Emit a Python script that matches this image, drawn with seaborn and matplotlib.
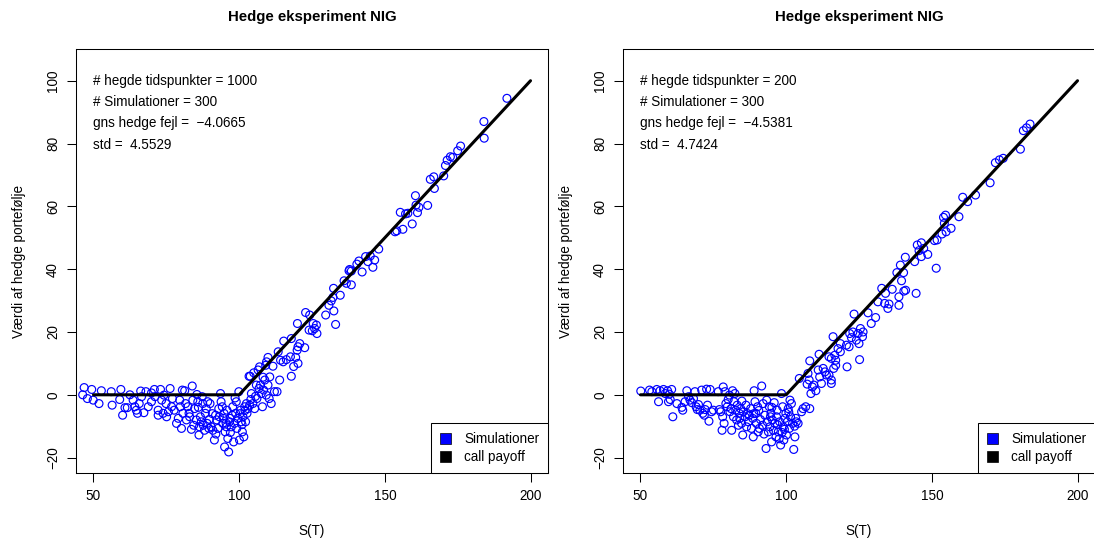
import matplotlib
matplotlib.use("Agg")
import matplotlib.pyplot as plt
from matplotlib.patches import Patch
import seaborn as sns
import pandas as pd

sns.set_style("ticks")
plt.rcParams['font.family'] = ['Liberation Sans', 'DejaVu Sans']
plt.rcParams['text.color'] = 'black'
plt.rcParams['axes.labelcolor'] = 'black'
plt.rcParams['xtick.color'] = 'black'
plt.rcParams['ytick.color'] = 'black'

# ---------------- data ----------------
title = "Hedge eksperiment NIG"
xlabel = "S(T)"
ylabel = "Værdi af hedge portefølje"
legend_labels = ["Simulationer", "call payoff"]

left_texts = ["# hegde tidspunkter = 1000", "# Simulationer = 300",
              "gns hedge fejl =  \u22124.0665", "std =  4.5529"]
right_texts = ["# hegde tidspunkter = 200", "# Simulationer = 300",
               "gns hedge fejl =  \u22124.5381", "std =  4.7424"]

payoff_S = [50, 100, 200]
payoff_V = [0, 0, 100]

x_ticks = [50, 100, 150, 200]
y_ticks = [-20, 0, 20, 40, 60, 80, 100]

left_S = [46.8, 46.3, 47.9, 49.4, 49.9, 51.9, 52.7, 56.1, 56.4, 59.0, 59.4, 60.0, 60.8, 61.6, 62.5,
          63.6, 64.2, 64.7, 65.1, 65.7, 66.2, 66.5, 67.3, 68.0, 68.8, 69.9, 69.9, 70.9, 71.1, 72.2,
          72.2, 73.0, 73.4, 73.9, 74.2, 74.9, 75.1, 75.7, 76.3, 76.8, 77.1, 77.7, 78.5, 79.1, 79.6,
          79.8, 80.2, 80.5, 80.7, 81.3, 81.6, 81.9, 82.4, 82.8, 83.6, 83.9, 84.1, 84.4, 84.7, 85.3,
          85.5, 85.8, 86.2, 86.4, 86.7, 87.0, 87.3, 87.5, 87.7, 88.1, 88.4, 88.7, 89.0, 89.2, 89.6,
          90.0, 90.4, 91.0, 91.5, 91.9, 92.3, 92.7, 93.0, 93.2, 93.6, 93.8, 94.2, 94.4, 94.8, 95.0,
          95.2, 95.6, 95.8, 96.1, 96.4, 96.7, 96.9, 97.3, 97.6, 97.8, 98.1, 98.4, 98.8, 99.0, 99.2,
          99.5, 99.9, 100.1, 100.5, 100.7, 101.1, 101.3, 101.6, 101.9, 102.2, 102.5, 102.7, 103.0, 103.4, 103.6,
          103.8, 104.2, 104.7, 105.0, 105.3, 105.9, 106.1, 106.5, 107.0, 107.3, 107.6, 108.0, 108.2, 108.4, 108.8,
          109.1, 109.3, 109.9, 110.3, 110.5, 111.0, 111.6, 112.1, 113.0, 113.9, 117.9, 118.7, 120.2,
          130.8, 131.6, 132.5, 129.7, 124.2, 122.8, 120.0, 125.4, 126.5, 125.9, 124.0, 125.1, 126.7, 133.1,
          117.9, 115.3, 120.8, 120.2, 122.5, 119.9, 117.6, 116.2, 114.2, 115.1, 119.4, 109.9, 109.4, 113.4,
          191.9, 184.0, 184.1, 176.0, 175.0, 173.3, 172.5, 171.4, 170.8, 170.2, 166.8, 165.6, 167.0, 160.5,
          160.7, 161.7, 164.7, 161.2, 157.9, 157.1, 155.3, 159.4, 156.2, 154.1, 153.5, 147.9, 146.5, 145.9,
          145.0, 144.2, 143.4, 141.1, 140.4, 137.9, 137.7, 138.5, 142.2, 136.0, 136.8, 138.5, 132.4, 134.7,
          132.2,
          86.0, 90.8, 92.0, 94.6, 97.0, 98.6, 100.3, 101.0, 102.0, 104.0, 105.6, 106.8, 89.8, 83.0, 95.5]
left_V = [2.3, 0.0, -1.2, 1.7, -1.7, -2.8, 1.3, 1.0, -3.3, -1.5, 1.7, -6.5, -4.1, -4.1, 0.0,
          -1.7, -3.8, -4.9, -5.9, -2.8, 1.2, -0.6, -5.7, 1.0, -3.8, 0.6, -2.2, 1.7, -0.6, -4.9,
          -6.5, 1.7, -1.7, -5.9, -0.1, -2.8, -7.0, -5.4, 2.0, -3.8, -1.2, -4.9, -9.1, -7.5, -1.7,
          -3.8, -10.7, 1.5, -5.9, 1.3, -2.8, -8.0, -3.8, -5.9, -11.0, 2.8, -1.7, -9.7, -4.4, -8.0,
          0.1, -2.2, -12.8, -10.2, -7.0, -8.6, -0.6, -2.8, -9.7, -11.3, -5.9, -4.4, -9.1, -2.2, -10.7,
          -2.8, -10.2, -11.3, -14.4, -6.5, -8.0, -10.7, -4.4, -7.0, 0.4, -2.2, -3.8, -9.1, -5.9, -16.6,
          -11.8, -10.2, -4.9, -13.9, -18.2, -8.6, -7.5, -10.2, -6.5, -3.8, -15.0, -9.1, -5.9, -2.2, -10.7,
          -7.5, 1.0, -14.4, -4.9, -8.6, -11.8, -7.0, -13.4, -3.8, -8.6, -2.8, -5.9, -4.4, 5.9, -3.3,
          5.9, 0.4, -2.8, 7.0, -4.4, 3.1, -1.2, 7.9, 8.9, 3.1, 0.4, -3.8, 5.6, 1.5, 4.7,
          9.4, -0.1, 3.1, -1.2, 5.7, -2.8, 9.1, 1.0, 1.0, 4.7, 5.9, 9.0, 10.0,
          28.5, 29.9, 26.7, 25.4, 25.4, 26.2, 22.7, 22.7, 22.2, 21.1, 20.6, 20.4, 19.5, 22.4,
          17.9, 17.1, 16.3, 15.3, 15.0, 14.2, 12.1, 11.2, 11.0, 10.5, 11.9, 11.9, 10.5, 13.7,
          94.4, 87.0, 81.7, 79.2, 77.7, 75.6, 75.8, 74.7, 73.0, 69.7, 69.4, 68.6, 65.7, 63.4,
          60.4, 59.7, 60.3, 58.0, 57.8, 57.6, 58.1, 54.4, 52.7, 52.2, 51.9, 46.4, 42.9, 40.6,
          44.2, 42.4, 44.0, 42.6, 41.6, 39.9, 39.5, 39.4, 39.1, 36.3, 35.5, 35.0, 33.9, 31.7,
          31.0,
          -4.0, -6.0, -12.5, -7.5, -12.0, -1.0, -6.0, -9.5, -5.0, -1.5, -0.5, 2.0, -7.8, -7.0, -9.0]

right_S = [50.1, 53.1, 53.9, 55.6, 56.7, 57.9, 58.5, 59.3, 59.9, 60.7, 61.1, 56.2, 59.6, 60.2, 62.5,
           64.2, 64.5, 65.3, 65.9, 66.5, 67.0, 67.6, 68.2, 68.7, 69.1, 69.5, 69.9, 70.4, 71.0, 71.4,
           71.9, 72.2, 72.7, 73.0, 73.5, 73.9, 74.4, 75.0, 76.7, 77.1, 77.5, 78.0, 78.2, 78.4, 78.7,
           79.0, 79.3, 79.8, 80.1, 80.5, 80.7, 81.1, 81.3, 81.6, 81.9, 82.1, 82.4, 82.7, 83.0, 83.2,
           83.6, 83.9, 84.1, 84.4, 84.7, 85.1, 85.3, 85.9, 86.2, 86.4, 87.0, 87.3, 87.8, 88.1, 88.5,
           88.7, 89.0, 89.3, 89.6, 89.8, 90.2, 90.4, 90.8, 91.2, 91.6, 91.9, 92.1, 92.7, 93.1, 93.3,
           93.5, 93.9, 94.2, 94.4, 94.8, 95.0, 95.3, 95.6, 95.9, 96.1, 96.5, 96.7, 96.9, 97.3, 97.6,
           97.8, 98.1, 98.4, 98.8, 99.0, 99.2, 99.6, 99.9, 100.1, 100.4, 100.7, 101.1, 101.3, 101.5, 101.8,
           102.2, 102.6, 103.0, 103.3, 103.5, 104.1, 104.5, 105.3, 105.8, 106.7, 107.2, 107.5, 107.9, 108.1, 108.5,
           109.0, 109.5, 110.2, 111.0, 111.5, 112.1, 112.7, 113.3, 113.8, 114.7, 115.5, 115.5, 116.3, 117.0, 120.9,
           131.5, 133.8, 135.3, 134.9, 138.7, 128.1, 130.7, 129.2, 123.3, 125.5, 126.4, 124.7, 126.2, 122.9,
           121.8, 122.4, 124.1, 125.0, 116.1, 118.6, 120.7, 121.6, 117.8, 118.6, 116.7, 115.5, 114.7, 117.0,
           125.2, 111.3, 108.1,
           183.7, 182.5, 181.4, 180.4, 174.5, 173.2, 171.8, 170.0, 165.0, 162.3, 160.6, 159.3, 154.7, 154.0,
           154.3, 156.6, 154.9, 153.5, 151.8, 150.9, 146.4, 145.0, 145.6, 147.2, 148.6, 146.4, 144.1, 140.9,
           139.2, 138.0, 140.3, 139.6, 151.5, 141.0, 140.4, 144.6, 136.4, 132.8, 134.1, 138.7,
           86.8, 90.6, 92.4, 94.6, 97.0, 98.6, 100.9, 102.9, 84.8, 88.9, 95.1, 99.4]
right_V = [1.2, 1.5, 1.0, 1.7, 1.3, 1.7, 0.4, 1.3, 0.2, 1.7, -7.0, -2.2, -2.2, -1.5, -2.8,
           -4.0, -4.9, -2.2, 1.3, -0.6, -1.7, -2.5, -1.2, 1.0, -3.8, -4.7, -3.1, -4.9, 1.5, -5.9,
           -6.5, -4.7, 1.8, -3.3, -8.4, 1.7, -5.4, -4.9, 1.0, -4.7, -5.4, -11.3, -7.0, 2.5, -9.1,
           1.0, -2.8, -3.8, -1.5, -0.1, -5.4, -4.4, -11.3, 1.3, -7.0, -2.2, 0.4, -4.9, -8.0, -3.3,
           -9.7, -5.9, -7.5, -4.4, -9.1, -12.8, -5.4, -7.0, -3.3, -10.2, -8.6, -6.5, -4.4, -10.7, -7.5,
           -13.4, 1.3, -2.2, -5.9, -9.1, -3.8, -11.8, -10.7, -7.9, 2.8, -9.7, -2.8, -6.5, -17.1, -1.7,
           -8.6, -11.8, -3.8, -10.2, -5.9, -15.0, -8.0, -11.3, -2.5, -9.1, -13.4, -7.0, -4.9, -11.8, -14.0,
           -8.6, -16.0, 0.4, -3.8, -10.2, -14.4, -7.5, -5.9, -12.8, -8.6, -4.4, -10.7, -1.7, -7.0, -2.8,
           -9.1, -17.4, -13.4, -7.5, -8.6, -9.1, 5.2, -5.4, -4.4, -3.8, 3.4, 6.8, 4.7, -4.4, 0.4,
           2.5, 3.1, 1.3, 7.9, 5.7, 3.6, 8.4, 7.3, 6.3, 6.3, 4.7, 3.6, 8.4, 9.4, 8.9,
           29.6, 29.1, 28.9, 27.5, 28.5, 26.1, 24.6, 22.7, 25.7, 21.1, 20.0, 19.5, 18.5, 20.0,
           19.5, 18.2, 17.4, 16.3, 18.5, 16.3, 15.8, 15.3, 14.7, 13.7, 12.6, 11.6, 12.1, 11.0,
           11.2, 12.9, 10.8,
           86.2, 85.0, 84.1, 78.2, 75.3, 74.8, 73.9, 67.5, 63.6, 61.5, 62.9, 56.7, 57.2, 56.5,
           54.6, 53.0, 51.9, 51.2, 49.3, 49.1, 48.4, 47.7, 45.9, 46.6, 44.7, 44.0, 42.4, 43.8,
           41.3, 38.9, 38.9, 36.3, 40.3, 33.3, 33.0, 32.3, 33.6, 33.9, 32.3, 31.2,
           -6.0, -5.0, -12.5, -7.0, -9.5, -12.0, -5.5, -10.0, -2.0, -6.0, -4.0, -11.0]

panels = [
    (pd.DataFrame({"S": left_S, "V": left_V}), left_texts),
    (pd.DataFrame({"S": right_S, "V": right_V}), right_texts),
]
payoff_df = pd.DataFrame({"S": payoff_S, "V": payoff_V})

# ---------------- figure ----------------
W, H = 1094, 539
FS = 9.75
fig = plt.figure(figsize=(W / 100, H / 100), dpi=100)
ax_rects = [
    [76 / W, (H - 473) / H, 472 / W, 424 / H],
    [623 / W, (H - 473) / H, 472 / W, 424 / H],
]

for rect, (df, texts) in zip(ax_rects, panels):
    ax = fig.add_axes(rect)
    sns.scatterplot(data=df, x="S", y="V", ax=ax, marker="o", s=32,
                    facecolors="none", edgecolor="blue", linewidth=0.85, legend=False)
    sns.lineplot(data=payoff_df, x="S", y="V", ax=ax, color="black", linewidth=2.2,
                 estimator=None, sort=False)
    ax.set_xlim(44, 206)
    ax.set_ylim(-24.9, 110.1)
    ax.set_xticks(x_ticks)
    ax.set_yticks(y_ticks)
    ax.set_xticklabels([str(v) for v in x_ticks])
    ax.set_yticklabels([str(v).replace("-", "\u2212") for v in y_ticks],
                       rotation=90, va="center")
    ax.tick_params(direction="out", length=6.5, width=0.75, labelsize=FS,
                   color="black", labelcolor="black")
    ax.tick_params(axis="x", pad=5)
    ax.tick_params(axis="y", pad=5)
    for sp in ax.spines.values():
        sp.set_visible(True)
        sp.set_linewidth(0.75)
        sp.set_color("black")
    ax.set_xlabel(xlabel, fontsize=FS, va="center", color="black")
    ax.xaxis.set_label_coords(0.5, (473 - 531) / 424)
    ax.set_ylabel(ylabel, fontsize=FS, va="center", color="black")
    ax.yaxis.set_label_coords((19 - 76) / 472, 0.5)
    ax.text(0.5, (473 - 17) / 424, title, transform=ax.transAxes, ha="center",
            va="center", fontsize=10.8, fontweight="bold", color="black")
    for t, yv in zip(texts, [100, 93.2, 86.4, 79.6]):
        ax.text(50, yv, t, ha="left", va="center", fontsize=FS, color="black")
    handles = [Patch(facecolor="blue", edgecolor="black", linewidth=0.5),
               Patch(facecolor="black", edgecolor="black", linewidth=0.5)]
    leg = ax.legend(handles, legend_labels, loc="lower right", borderaxespad=0,
                    fancybox=False, framealpha=1, edgecolor="black", fontsize=FS,
                    handlelength=0.8, handleheight=0.8, handletextpad=1.0,
                    labelspacing=0.3, borderpad=0.65)
    leg.get_frame().set_linewidth(0.75)
    for txt in leg.get_texts():
        txt.set_color("black")

fig.savefig("out.png", dpi=100)
